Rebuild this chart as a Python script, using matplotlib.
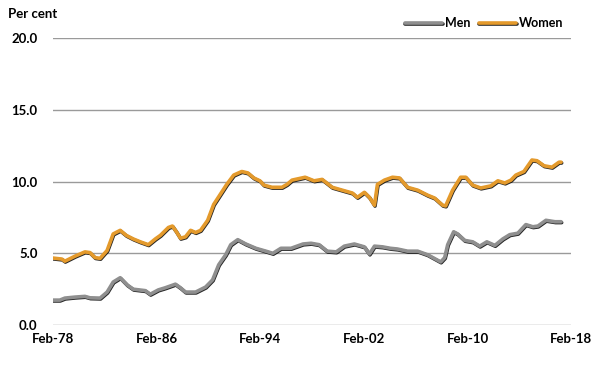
import numpy as np
import matplotlib
matplotlib.use("Agg")
import matplotlib.pyplot as plt
import matplotlib.patheffects as pe

# decimal years and values
women_t = [1978.08, 1978.78, 1979.01, 1979.79, 1980.56, 1980.95, 1981.34, 1981.73, 1982.27,
           1982.74, 1983.28, 1983.75, 1984.29, 1984.83, 1985.45, 1985.99, 1986.38, 1987.00,
           1987.31, 1987.62, 1987.93, 1988.32, 1988.71, 1989.10, 1989.48, 1990.03,
           1990.49, 1990.96, 1991.50, 1992.04, 1992.66, 1993.13, 1993.59, 1994.06,
           1994.37, 1994.99, 1995.76, 1996.15, 1996.54, 1997.55, 1998.24, 1998.86, 1999.64,
           2000.41, 2001.19, 2001.58, 2002.12, 2002.51, 2002.90, 2003.13, 2003.67, 2004.29,
           2004.83, 2005.45, 2006.23, 2007.00, 2007.54, 2008.16, 2008.39, 2008.93, 2009.55,
           2009.94, 2010.48, 2011.10, 2011.88, 2012.42, 2012.96, 2013.43, 2013.81, 2014.43,
           2015.05, 2015.44, 2015.98, 2016.60, 2017.14, 2017.30]
women_v = [4.67, 4.60, 4.45, 4.80, 5.10, 5.05, 4.70, 4.65, 5.20, 6.35, 6.60, 6.25, 6.00,
           5.80, 5.60, 6.00, 6.25, 6.80, 6.90, 6.50, 6.05, 6.15, 6.60, 6.45, 6.60, 7.30,
           8.40, 9.05, 9.80, 10.45, 10.70, 10.60, 10.25, 10.05, 9.75, 9.60, 9.60, 9.80,
           10.10, 10.30, 10.05, 10.15, 9.60, 9.40, 9.20, 8.90, 9.25, 8.90, 8.35, 9.80,
           10.10, 10.30, 10.25, 9.60, 9.40, 9.05, 8.85, 8.35, 8.30, 9.40, 10.30, 10.30,
           9.75, 9.55, 9.70, 10.05, 9.90, 10.10, 10.45, 10.70, 11.50, 11.45, 11.10, 11.00,
           11.35, 11.35]

men_t = [1978.08, 1978.62, 1979.01, 1979.79, 1980.56, 1980.95, 1981.73, 1982.27, 1982.74,
         1983.28, 1983.82, 1984.29, 1985.22, 1985.60, 1986.22, 1986.76, 1987.54, 1987.93,
         1988.32, 1989.10, 1989.87, 1990.41, 1990.88, 1991.42, 1991.81, 1992.35, 1992.97,
         1993.75, 1994.52, 1995.06, 1995.68, 1996.46, 1997.39, 1998.01, 1998.63, 1999.25,
         1999.95, 2000.57, 2001.35, 2002.12, 2002.51, 2002.90, 2003.52, 2004.13, 2004.67,
         2005.45, 2006.23, 2007.00, 2008.01, 2008.32, 2008.55, 2009.01, 2009.32, 2009.86,
         2010.48, 2011.02, 2011.57, 2012.19, 2012.80, 2013.34, 2013.96, 2014.58, 2015.12,
         2015.51, 2016.13, 2016.83, 2017.30]
men_v = [1.74, 1.74, 1.88, 1.95, 2.00, 1.90, 1.88, 2.30, 3.00, 3.30, 2.80, 2.50, 2.40,
         2.15, 2.45, 2.60, 2.85, 2.60, 2.30, 2.30, 2.65, 3.15, 4.20, 4.90, 5.60, 5.95,
         5.65, 5.35, 5.15, 5.00, 5.35, 5.35, 5.65, 5.70, 5.60, 5.15, 5.10, 5.50, 5.65,
         5.45, 4.95, 5.50, 5.45, 5.35, 5.30, 5.15, 5.15, 4.90, 4.40, 4.70, 5.60, 6.50,
         6.35, 5.90, 5.80, 5.50, 5.80, 5.55, 6.00, 6.30, 6.40, 7.00, 6.85, 6.90, 7.30,
         7.20, 7.20]

tick_years = [1978.08, 1986.08, 1994.08, 2002.08, 2010.08, 2018.08]
tick_labels = ["Feb-78", "Feb-86", "Feb-94", "Feb-02", "Feb-10", "Feb-18"]
y_ticks = [0, 5, 10, 15, 20]

plt.rcParams['font.family'] = ['Lato', 'DejaVu Sans']

fig = plt.figure(figsize=(6, 3.69), dpi=100)
ax = fig.add_axes([0.088, 0.119, 0.864, 0.778])

shadow = [pe.SimpleLineShadow(offset=(0.4, -0.6), shadow_color='black', alpha=0.85),
          pe.Normal()]
ax.plot(men_t, men_v, color='#8F8F8F', lw=2.6, label='Men', path_effects=shadow,
        solid_capstyle='round', zorder=3)
ax.plot(women_t, women_v, color='#E49A2C', lw=2.6, label='Women', path_effects=shadow,
        solid_capstyle='round', zorder=3)

ax.set_xlim(1978.08, 2018.08)
ax.set_ylim(0, 20)
ax.set_yticks(y_ticks)
ax.set_yticklabels([f"{v:.1f}" for v in y_ticks], fontsize=9.5, fontweight='bold')
ax.set_xticks(tick_years)
ax.set_xticklabels(tick_labels, fontsize=9.5, fontweight='bold')
ax.tick_params(length=0, pad=6)
ax.tick_params(axis='y', pad=11)
ax.grid(axis='y', color='#9A9A9A', lw=1)
ax.set_axisbelow(True)
for s in ax.spines.values():
    s.set_visible(False)

fig.text(0.013, 0.962, "Per cent", fontsize=9.5, fontweight='bold', va='center')

leg = ax.legend(loc='lower right', bbox_to_anchor=(0.985, 1.03), ncol=2, frameon=False,
                fontsize=9, handlelength=3.0, handletextpad=0.2, columnspacing=0.7,
                borderaxespad=0, borderpad=0)
for t in leg.get_texts():
    t.set_fontweight('bold')

fig.savefig("out.png", dpi=100)
